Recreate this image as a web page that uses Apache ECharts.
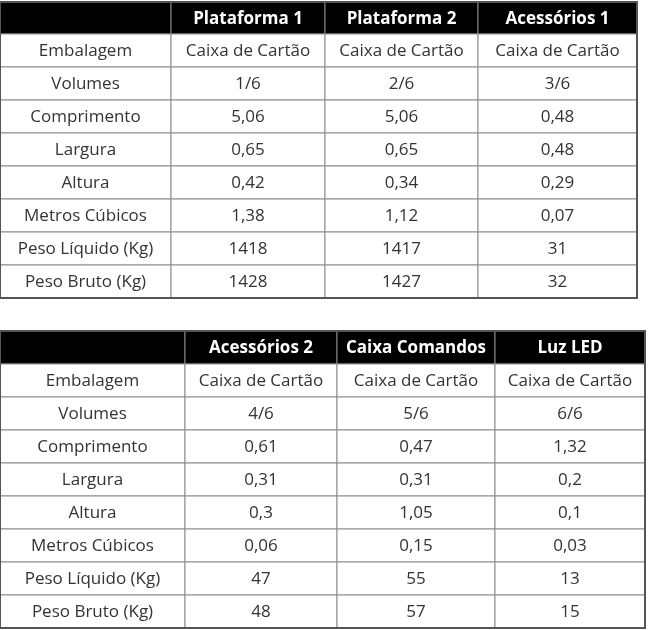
<!DOCTYPE html>
<html>
<head>
<meta charset="utf-8">
<script src="https://cdn.jsdelivr.net/npm/echarts@6/dist/echarts.min.js"></script>
<style>html,body{margin:0;padding:0;background:#fff}#main{width:648px;height:630px}</style>
</head>
<body>
<div id="main"></div>
<script>
// linhas (comuns às duas tabelas)
var rowLabels = ['Embalagem', 'Volumes', 'Comprimento', 'Largura', 'Altura', 'Metros Cúbicos', 'Peso Líquido (Kg)', 'Peso Bruto (Kg)'];

// tabela 1
var headers1 = ['Plataforma 1', 'Plataforma 2', 'Acessórios 1'];
var plataforma1 = ['Caixa de Cartão', '1/6', '5,06', '0,65', '0,42', '1,38', '1418', '1428'];
var plataforma2 = ['Caixa de Cartão', '2/6', '5,06', '0,65', '0,34', '1,12', '1417', '1427'];
var acessorios1 = ['Caixa de Cartão', '3/6', '0,48', '0,48', '0,29', '0,07', '31', '32'];

// tabela 2
var headers2 = ['Acessórios 2', 'Caixa Comandos', 'Luz LED'];
var acessorios2 = ['Caixa de Cartão', '4/6', '0,61', '0,31', '0,3', '0,06', '47', '48'];
var caixaComandos = ['Caixa de Cartão', '5/6', '0,47', '0,31', '1,05', '0,15', '55', '57'];
var luzLed = ['Caixa de Cartão', '6/6', '1,32', '0,2', '0,1', '0,03', '13', '15'];

function buildCells(headers, cols) {
  var out = [[0, 0, '', 1]];
  headers.forEach(function (h, i) { out.push([i + 1, 0, h, 1]); });
  rowLabels.forEach(function (r, j) {
    out.push([0, j + 1, r, 0]);
    cols.forEach(function (c, i) { out.push([i + 1, j + 1, c[j], 0]); });
  });
  return out;
}

function edges(sizes) {
  var e = [0];
  sizes.forEach(function (s) { e.push(e[e.length - 1] + s); });
  return e;
}

var layouts = [
  { top: 2, colW: [171, 154, 153, 159], rowH: [32, 33, 33, 33, 33, 33, 33, 33, 33] },
  { top: 331, colW: [185, 152, 158, 150], rowH: [33, 33, 33, 33, 33, 33, 33, 33, 33] }
];
layouts.forEach(function (l) { l.xe = edges(l.colW); l.ye = edges(l.rowH); });

function makeRender(l) {
  return function (params, api) {
    var c = api.value(0), r = api.value(1), head = api.value(3);
    var p0 = api.coord([l.xe[c], l.ye[r]]);
    var p1 = api.coord([l.xe[c + 1], l.ye[r + 1]]);
    return {
      type: 'group',
      children: [{
        type: 'rect',
        shape: { x: p0[0], y: p0[1], width: p1[0] - p0[0], height: p1[1] - p0[1] },
        style: { fill: head ? '#000' : '#fff', stroke: '#8a8a8a', lineWidth: 1 }
      }, {
        type: 'text',
        style: {
          text: api.value(2), x: (p0[0] + p1[0]) / 2, y: (p0[1] + p1[1]) / 2 + 1,
          align: 'center', verticalAlign: 'middle',
          fill: head ? '#fff' : '#333',
          font: head ? 'bold 17px "Open Sans", sans-serif' : '17px "Open Sans", sans-serif'
        }
      }]
    };
  };
}

var grids = [], xAxes = [], yAxes = [], series = [];
var data = [buildCells(headers1, [plataforma1, plataforma2, acessorios1]),
            buildCells(headers2, [acessorios2, caixaComandos, luzLed])];
layouts.forEach(function (l, i) {
  var w = l.xe[l.xe.length - 1], h = l.ye[l.ye.length - 1];
  grids.push({ left: 0, top: l.top, width: w, height: h, show: true, borderColor: '#555', borderWidth: 2, backgroundColor: 'transparent', z: 5 });
  xAxes.push({ type: 'value', gridIndex: i, min: 0, max: w, show: false });
  yAxes.push({ type: 'value', gridIndex: i, min: 0, max: h, inverse: true, show: false });
  series.push({ type: 'custom', xAxisIndex: i, yAxisIndex: i, renderItem: makeRender(l), data: data[i], silent: true, clip: false });
});

var chart = echarts.init(document.getElementById('main'));
chart.setOption({ animation: false, grid: grids, xAxis: xAxes, yAxis: yAxes, series: series });
</script>
</body>
</html>
